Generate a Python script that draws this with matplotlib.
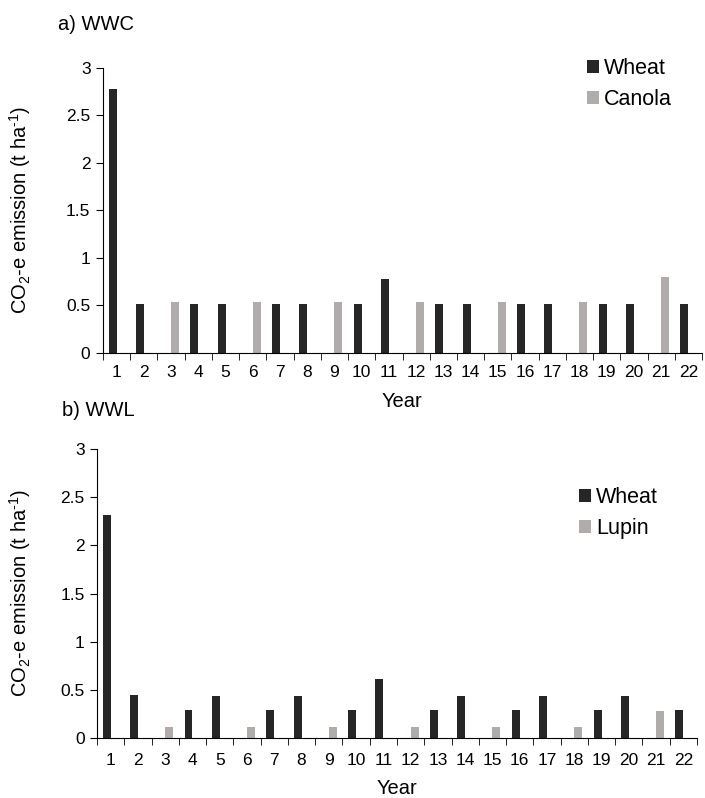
import matplotlib
matplotlib.use("Agg")
import matplotlib.pyplot as plt
import numpy as np

plt.rcParams['font.family'] = ['Liberation Sans', 'DejaVu Sans']
plt.rcParams['mathtext.fontset'] = 'custom'
plt.rcParams['mathtext.rm'] = 'Liberation Sans'
plt.rcParams['mathtext.it'] = 'Liberation Sans'
plt.rcParams['mathtext.default'] = 'regular'

years = [str(i) for i in range(1, 23)]

# a) WWC
wwc_wheat = [2.78, 0.52, 0, 0.52, 0.52, 0, 0.52, 0.52, 0, 0.52, 0.78,
             0, 0.52, 0.52, 0, 0.52, 0.52, 0, 0.52, 0.52, 0, 0.52]
wwc_canola = [0, 0, 0.54, 0, 0, 0.54, 0, 0, 0.54, 0, 0,
              0.54, 0, 0, 0.54, 0, 0, 0.54, 0, 0, 0.80, 0]

# b) WWL
wwl_wheat = [2.32, 0.45, 0, 0.29, 0.44, 0, 0.29, 0.44, 0, 0.29, 0.61,
             0, 0.29, 0.44, 0, 0.29, 0.44, 0, 0.29, 0.44, 0, 0.29]
wwl_lupin = [0, 0, 0.11, 0, 0, 0.11, 0, 0, 0.11, 0, 0,
             0.11, 0, 0, 0.11, 0, 0, 0.11, 0, 0, 0.28, 0]

dark = '#262626'
grey = '#b0acac'

W, H = 705, 798
fig = plt.figure(figsize=(W / 100, H / 100), dpi=100)


def px_axes(left, top, right, bottom):
    return fig.add_axes([left / W, 1 - bottom / H, (right - left) / W, (bottom - top) / H])


ax1 = px_axes(103, 68, 702, 353)
ax2 = px_axes(97, 449, 697, 738)

x = np.arange(len(years))
w = 0.29


def draw(ax, wheat, other, other_name, tick_pad):
    ax.bar(x - w/2, wheat, w, color=dark, label='Wheat')
    ax.bar(x + w/2, other, w, color=grey, label=other_name)
    ax.set_xlim(-0.5, len(years) - 0.5)
    ax.set_ylim(0, 3)
    ax.set_yticks([0, 0.5, 1, 1.5, 2, 2.5, 3])
    ax.set_yticklabels(['0', '0.5', '1', '1.5', '2', '2.5', '3'])
    ax.set_xticks(x)
    ax.set_xticklabels(years)
    ax.set_xticks(np.arange(len(years) + 1) - 0.5, minor=True)
    ax.tick_params(axis='x', which='major', length=0, labelsize=12.5, pad=tick_pad)
    ax.tick_params(axis='x', which='minor', length=5, direction='out')
    ax.tick_params(axis='y', length=5, direction='out', labelsize=12.5, pad=4)
    ax.spines['top'].set_visible(False)
    ax.spines['right'].set_visible(False)


draw(ax1, wwc_wheat, wwc_canola, 'Canola', 9)
draw(ax2, wwl_wheat, wwl_lupin, 'Lupin', 11)

ylab = 'CO$_2$-e emission (t ha$^{\\text{-1}}$)'
fig.text(20 / W, 1 - 210 / H, ylab, rotation=90, fontsize=14.5, ha='center', va='center')
fig.text(20 / W, 1 - 593 / H, ylab, rotation=90, fontsize=14.5, ha='center', va='center')

fig.text(402 / W, 1 - 401 / H, 'Year', fontsize=14.5, ha='center', va='center')
fig.text(397 / W, 1 - 788 / H, 'Year', fontsize=14.5, ha='center', va='center')

fig.text(58 / W, 1 - 24 / H, 'a) WWC', fontsize=14.5, ha='left', va='center')
fig.text(62 / W, 1 - 411 / H, 'b) WWL', fontsize=14.5, ha='left', va='center')

leg_kw = dict(frameon=False, fontsize=15.5, handlelength=0.55, handleheight=0.55,
              handletextpad=0.25, labelspacing=0.45, borderpad=0, borderaxespad=0,
              loc='center left', bbox_transform=fig.transFigure)
ax1.legend(bbox_to_anchor=(587 / W, 1 - 84 / H), **leg_kw)
ax2.legend(bbox_to_anchor=(579 / W, 1 - 513 / H), **leg_kw)

fig.savefig('out.png', dpi=100)
